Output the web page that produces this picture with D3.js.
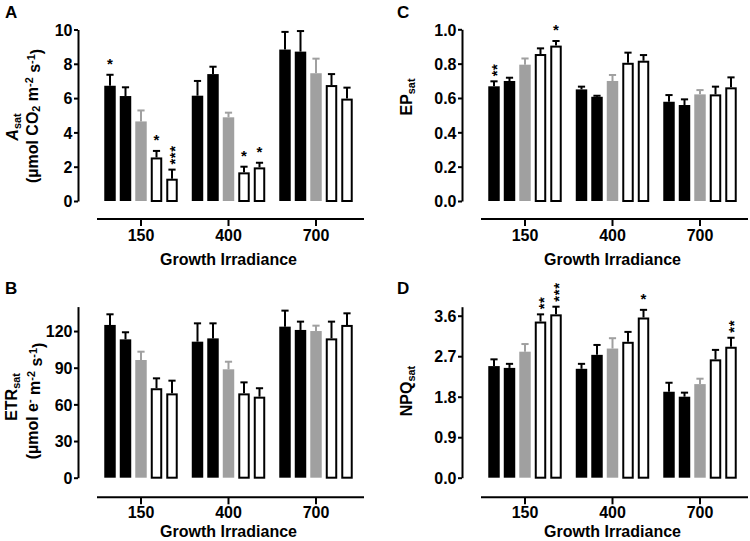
<!DOCTYPE html>
<html><head><meta charset="utf-8">
<script src="https://cdn.jsdelivr.net/npm/d3@7"></script>
<style>
body{margin:0;background:#fff}
text{font-family:"Liberation Sans",Arial,Helvetica,sans-serif;font-weight:bold;fill:#000}
</style>
</head><body>
<svg id="chart" width="750" height="541"></svg>
<script>
// ---------- data ----------
const categories = ["150", "400", "700"];
const series = ["s1", "s2", "s3", "s4", "s5"];

// A: Asat
const asatMean = [[6.72, 6.12, 4.64, 2.54, 1.30], [6.14, 7.40, 4.88, 1.67, 1.96], [8.83, 8.71, 7.45, 6.76, 5.97]];
const asatErr  = [[0.64, 0.51, 0.64, 0.38, 0.53], [0.86, 0.43, 0.27, 0.33, 0.27], [1.03, 1.20, 0.85, 0.64, 0.64]];
const asatSig  = [["*", "", "", "*", "***"], ["", "", "", "*", "*"], ["", "", "", "", ""]];
const asatTicks = [0, 2, 4, 6, 8, 10];

// B: ETRsat
const etrMean = [[125, 113.2, 96.3, 73.2, 69], [111.3, 114, 88.7, 69, 66.3], [123.6, 120.9, 120, 114, 125]];
const etrErr  = [[8.7, 5.8, 6.8, 8.1, 10.4], [15, 12.3, 6.2, 9, 6.9], [13.1, 6.8, 4.4, 13.7, 9.5]];
const etrSig  = [["", "", "", "", ""], ["", "", "", "", ""], ["", "", "", "", ""]];
const etrTicks = [0, 30, 60, 90, 120];

// C: EPsat
const epMean = [[0.668, 0.699, 0.794, 0.856, 0.905], [0.650, 0.607, 0.699, 0.805, 0.817], [0.578, 0.559, 0.621, 0.621, 0.662]];
const epErr  = [[0.029, 0.019, 0.036, 0.033, 0.027], [0.016, 0.006, 0.035, 0.059, 0.033], [0.039, 0.033, 0.025, 0.045, 0.058]];
const epSig  = [["**", "", "", "", "*"], ["", "", "", "", ""], ["", "", "", "", ""]];
const epTicks = [0, 0.2, 0.4, 0.6, 0.8, 1.0];

// D: NPQsat
const npqMean = [[2.48, 2.44, 2.80, 3.47, 3.63], [2.42, 2.73, 2.87, 3.02, 3.56], [1.91, 1.80, 2.08, 2.63, 2.91]];
const npqErr  = [[0.15, 0.09, 0.17, 0.16, 0.17], [0.11, 0.22, 0.23, 0.22, 0.17], [0.20, 0.09, 0.12, 0.21, 0.20]];
const npqSig  = [["", "", "", "**", "***"], ["", "", "", "", "*"], ["", "", "", "", "**"]];
const npqTicks = [0, 0.9, 1.8, 2.7, 3.6];

const xTitle = "Growth Irradiance";

// ---------- styling ----------
const fillOf = {s1: "#000", s2: "#000", s3: "#a0a0a0", s4: "#fff", s5: "#fff"};
const errColorOf = {s1: "#000", s2: "#000", s3: "#a0a0a0", s4: "#000", s5: "#000"};

const svg = d3.select("#chart");

function drawPanel(p) {
  const g = svg.append("g");
  const y = d3.scaleLinear().domain(p.domain).range([p.yBase, p.yTop]);
  const x = d3.scaleBand().domain(categories).range([p.ax + 19.25, p.ax + 281.75]).padding(0);
  const xi = d3.scaleBand().domain(series).range([-38.75, 38.75]).paddingInner(0.26).paddingOuter(0.13);

  // y axis
  const yAx = g.append("g").attr("transform", `translate(${p.ax},0)`)
    .call(d3.axisLeft(y).tickValues(p.ticks).tickSize(4).tickSizeOuter(0).tickPadding(1.5).tickFormat(p.fmt));
  yAx.select(".domain").attr("stroke-width", 2).attr("stroke", "#000");
  yAx.selectAll(".tick line").attr("stroke-width", 2).attr("stroke", "#000");
  yAx.selectAll(".tick text").attr("font-size", 16).attr("font-family", null).attr("dy", "0.36em");

  // x axis
  const xAx = g.append("g").attr("transform", `translate(0,${p.xAxisY})`)
    .call(d3.axisBottom(x).tickSize(7).tickSizeOuter(0).tickPadding(p.xPad));
  xAx.select(".domain").attr("d", `M${p.ax + 19},0H${p.ax + 286}`).attr("stroke-width", 2).attr("stroke", "#000");
  xAx.selectAll(".tick line").attr("stroke-width", 2).attr("stroke", "#000");
  xAx.selectAll(".tick text").attr("font-size", 16).attr("font-family", null);

  g.append("text").attr("x", x("400") + x.bandwidth() / 2).attr("y", p.xAxisY + p.titleOff)
    .attr("text-anchor", "middle").attr("font-size", 16).text(xTitle);

  // bars
  const rows = [];
  categories.forEach((c, ci) => series.forEach((s, si) => rows.push({
    c, s, v: p.mean[ci][si], e: p.err[ci][si], sig: p.sig[ci][si]
  })));

  const cx = d => x(d.c) + x.bandwidth() / 2 + xi(d.s) + xi.bandwidth() / 2;
  const isOpen = d => fillOf[d.s] === "#fff";

  // error bars (upper)
  const eb = g.append("g").selectAll("g").data(rows).join("g");
  eb.append("line").attr("x1", cx).attr("x2", cx)
    .attr("y1", d => y(d.v)).attr("y2", d => y(d.v + d.e))
    .attr("stroke", d => errColorOf[d.s]).attr("stroke-width", 2);
  eb.append("line").attr("x1", d => cx(d) - 3.6).attr("x2", d => cx(d) + 3.6)
    .attr("y1", d => y(d.v + d.e)).attr("y2", d => y(d.v + d.e))
    .attr("stroke", d => errColorOf[d.s]).attr("stroke-width", 2);

  g.append("g").selectAll("rect").data(rows).join("rect")
    .attr("x", d => cx(d) - xi.bandwidth() / 2 + (isOpen(d) ? 1 : 0))
    .attr("y", d => y(d.v) + (isOpen(d) ? 1 : 0))
    .attr("width", d => xi.bandwidth() - (isOpen(d) ? 2 : 0))
    .attr("height", d => y(0) - y(d.v) - (isOpen(d) ? 1 : 0))
    .attr("fill", d => fillOf[d.s])
    .attr("stroke", d => isOpen(d) ? "#000" : "none")
    .attr("stroke-width", 2);

  // significance stars
  rows.filter(d => d.sig).forEach(d => {
    const top = y(d.v + d.e);
    if (d.sig.length === 1) {
      g.append("text").attr("x", cx(d)).attr("y", top - 5.5)
        .attr("text-anchor", "middle").attr("font-size", 15).text(d.sig);
    } else {
      g.append("text").attr("transform", `translate(${cx(d)},${top - 5}) rotate(-90)`)
        .attr("text-anchor", "start").attr("dy", "0.56em").attr("font-size", 15)
        .attr("letter-spacing", 0.6).text(d.sig);
    }
  });

  // panel letter
  g.append("text").attr("x", p.lx).attr("y", p.ly).attr("font-size", 17).text(p.letter);

  // y titles
  p.ytitle(g);
}

function rotText(g, x, y, size) {
  return g.append("text").attr("transform", `translate(${x},${y}) rotate(-90)`)
    .attr("text-anchor", "middle").attr("font-size", size);
}
function sub(t, s) { t.append("tspan").attr("font-size", "0.68em").attr("dy", "0.25em").text(s); }

drawPanel({
  letter: "A", lx: 5, ly: 18, ax: 78, yBase: 201, yTop: 29.5, xAxisY: 219, xPad: 4, titleOff: 46,
  domain: [0, 10], ticks: asatTicks, fmt: d3.format("d"),
  mean: asatMean, err: asatErr, sig: asatSig,
  ytitle: g => {
    const t1 = rotText(g, 18, 127, 16);
    t1.append("tspan").attr("font-style", "italic").text("A");
    sub(t1, "sat");
    const t2 = rotText(g, 37.5, 116, 16);
    t2.append("tspan").text("(\u00b5mol CO");
    t2.append("tspan").attr("font-size", "0.68em").attr("dy", "0.25em").text("2");
    t2.append("tspan").attr("dy", "-0.17em").text(" m");
    t2.append("tspan").attr("font-size", "0.68em").attr("dy", "-0.4em").text("-2");
    t2.append("tspan").attr("dy", "0.4em").text(" s");
    t2.append("tspan").attr("font-size", "0.68em").attr("dy", "-0.4em").text("-1");
    t2.append("tspan").attr("dy", "0.4em").text(")");
  }
});

drawPanel({
  letter: "B", lx: 5, ly: 294, ax: 78, yBase: 477.7, yTop: 306.6, xAxisY: 497.3, xPad: 2.5, titleOff: 39.5,
  domain: [0, 140], ticks: etrTicks, fmt: d3.format("d"),
  mean: etrMean, err: etrErr, sig: etrSig,
  ytitle: g => {
    const t1 = rotText(g, 17, 397, 16);
    t1.append("tspan").text("ETR");
    sub(t1, "sat");
    const t2 = rotText(g, 37.5, 401, 16);
    t2.append("tspan").text("(\u00b5mol e");
    t2.append("tspan").attr("font-size", "0.68em").attr("dy", "-0.4em").text("-");
    t2.append("tspan").attr("dy", "0.4em").text(" m");
    t2.append("tspan").attr("font-size", "0.68em").attr("dy", "-0.4em").text("-2");
    t2.append("tspan").attr("dy", "0.4em").text(" s");
    t2.append("tspan").attr("font-size", "0.68em").attr("dy", "-0.4em").text("-1");
    t2.append("tspan").attr("dy", "0.4em").text(")");
  }
});

drawPanel({
  letter: "C", lx: 397, ly: 18, ax: 462, yBase: 201, yTop: 29.3, xAxisY: 219, xPad: 4, titleOff: 46,
  domain: [0, 1], ticks: epTicks, fmt: d3.format(".1f"),
  mean: epMean, err: epErr, sig: epSig,
  ytitle: g => {
    const t1 = rotText(g, 412, 97, 16);
    t1.append("tspan").text("EP");
    sub(t1, "sat");
  }
});

drawPanel({
  letter: "D", lx: 397, ly: 294, ax: 462, yBase: 477.7, yTop: 306.7, xAxisY: 497.3, xPad: 2.5, titleOff: 39.5,
  domain: [0, 3.8], ticks: npqTicks, fmt: d3.format(".1f"),
  mean: npqMean, err: npqErr, sig: npqSig,
  ytitle: g => {
    const t1 = rotText(g, 412, 391, 16);
    t1.append("tspan").text("NPQ");
    sub(t1, "sat");
  }
});
</script>
</body></html>
